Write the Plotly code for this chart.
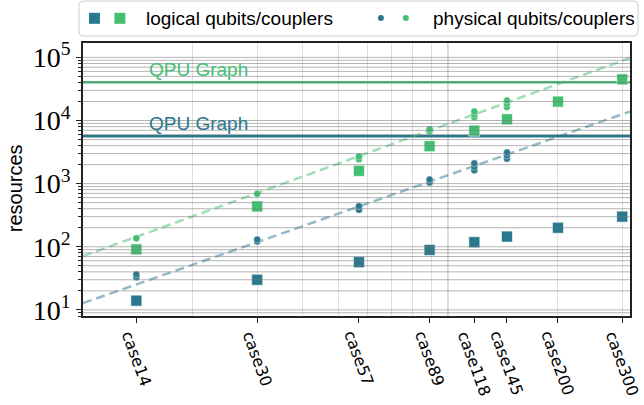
import numpy as np
import plotly.graph_objects as go

# ---- data -------------------------------------------------------------
cases = ["case14", "case30", "case57", "case89", "case118", "case145", "case200", "case300"]
buses = [14, 30, 57, 89, 118, 145, 200, 300]

logical_qubits = [14, 30, 57, 89, 118, 145, 200, 300]
logical_couplers = [91, 435, 1596, 3916, 6903, 10440, 19900, 44850]

# embedded problems (several embeddings per case; case200/case300 do not fit)
physical_buses = [14, 30, 57, 89, 118, 145]
physical_qubits = [[33, 36.5], [121, 130], [385, 439], [1045, 1167],
                   [1622, 1850, 2094], [2483, 2790, 3126]]
physical_couplers = [[136], [690], [2440, 2690], [6740, 7245],
                     [11250, 12400, 13830], [16370, 18400, 20700]]

# hardware graph size
qpu_qubits = 5627
qpu_couplers = 40279

# power-law trend lines across the bus-count axis
trend_buses = [10, 315]
qubit_trend = [12.8, 13900]
coupler_trend = [71, 98000]

y_tick_vals = [10, 100, 1000, 10000, 100000]
y_tick_text = ["10<sup>1</sup>", "10<sup>2</sup>", "10<sup>3</sup>", "10<sup>4</sup>", "10<sup>5</sup>"]

# ---- styling ----------------------------------------------------------
TEAL = "#2a788e"
GREEN = "#43bf71"
SANS = "Liberation Sans"
AXIS_COL = "#222222"

X_RANGE = [np.log10(trend_buses[0]), np.log10(trend_buses[1])]
Y_RANGE = [np.log10(8.0), np.log10(1.69e5)]

# plot area in pixels (used for the hand-built legend box)
PL, PR, PT, PB = 83, 632, 43, 316
W, H = 644, 405


def fx(p):
    return (p - PL) / (PR - PL)


def fy(p):
    return (PB - p) / (PB - PT)


def flatten(xs, groups):
    xo, yo = [], []
    for x, vals in zip(xs, groups):
        xo += [x] * len(vals)
        yo += list(vals)
    return xo, yo


fig = go.Figure()

# QPU graph limits
fig.add_trace(go.Scatter(x=trend_buses, y=[qpu_couplers] * 2, mode="lines",
                         line=dict(color=GREEN, width=2.6), hoverinfo="skip"))
fig.add_trace(go.Scatter(x=trend_buses, y=[qpu_qubits] * 2, mode="lines",
                         line=dict(color=TEAL, width=2.6), hoverinfo="skip"))

# trend lines
fig.add_trace(go.Scatter(x=trend_buses, y=coupler_trend, mode="lines", opacity=0.5,
                         line=dict(color=GREEN, width=2.5, dash="9px,5px")))
fig.add_trace(go.Scatter(x=trend_buses, y=qubit_trend, mode="lines", opacity=0.5,
                         line=dict(color=TEAL, width=2.5, dash="9px,5px")))

# logical resources
sq = dict(symbol="square", size=11, line=dict(color="white", width=0.6))
fig.add_trace(go.Scatter(x=buses, y=logical_couplers, mode="markers",
                         marker=dict(color=GREEN, **sq), name="logical couplers"))
fig.add_trace(go.Scatter(x=buses, y=logical_qubits, mode="markers",
                         marker=dict(color=TEAL, **sq), name="logical qubits"))

# physical resources
px_c, py_c = flatten(physical_buses, physical_couplers)
px_q, py_q = flatten(physical_buses, physical_qubits)
ci = dict(symbol="circle", size=7, line=dict(color="white", width=0.4))
fig.add_trace(go.Scatter(x=px_c, y=py_c, mode="markers",
                         marker=dict(color=GREEN, **ci), name="physical couplers"))
fig.add_trace(go.Scatter(x=px_q, y=py_q, mode="markers",
                         marker=dict(color=TEAL, **ci), name="physical qubits"))

shapes = []

# horizontal grid (major + minor decades) drawn over the markers
for k in range(0, 6):
    for m in range(1, 10):
        v = m * 10 ** k
        lv = np.log10(v)
        if Y_RANGE[0] < lv < Y_RANGE[1]:
            yp = (lv - Y_RANGE[0]) / (Y_RANGE[1] - Y_RANGE[0])
            shapes.append(dict(type="line", xref="paper", yref="paper", x0=0, x1=1,
                               y0=yp, y1=yp, layer="above",
                               line=dict(color="rgba(120,120,120,0.55)", width=1)))

# slightly stronger vertical line at the 100-bus decade
x100 = (2 - X_RANGE[0]) / (X_RANGE[1] - X_RANGE[0])
shapes.append(dict(type="line", xref="paper", yref="paper", x0=x100, x1=x100, y0=0, y1=1,
                   layer="below", line=dict(color="#c9c9c9", width=1.6)))

# legend frame with rounded corners
r = 4
lx0, lx1, ly0, ly1 = 79, 640, 1, 36
path = (f"M {fx(lx0 + r)},{fy(ly0)} L {fx(lx1 - r)},{fy(ly0)} "
        f"Q {fx(lx1)},{fy(ly0)} {fx(lx1)},{fy(ly0 + r)} L {fx(lx1)},{fy(ly1 - r)} "
        f"Q {fx(lx1)},{fy(ly1)} {fx(lx1 - r)},{fy(ly1)} L {fx(lx0 + r)},{fy(ly1)} "
        f"Q {fx(lx0)},{fy(ly1)} {fx(lx0)},{fy(ly1 - r)} L {fx(lx0)},{fy(ly0 + r)} "
        f"Q {fx(lx0)},{fy(ly0)} {fx(lx0 + r)},{fy(ly0)} Z")
shapes.append(dict(type="path", xref="paper", yref="paper", path=path,
                   fillcolor="white", line=dict(color="#d0d0d0", width=1)))

# legend glyphs
for cx, col in [(94.5, TEAL), (120, GREEN)]:
    shapes.append(dict(type="rect", xref="paper", yref="paper",
                       x0=fx(cx - 5.5), x1=fx(cx + 5.5), y0=fy(18.3 + 5.5), y1=fy(18.3 - 5.5),
                       fillcolor=col, line=dict(width=0)))
for cx, col in [(382, TEAL), (407, GREEN)]:
    shapes.append(dict(type="circle", xref="paper", yref="paper",
                       x0=fx(cx - 3), x1=fx(cx + 3), y0=fy(18 + 3), y1=fy(18 - 3),
                       fillcolor=col, line=dict(width=0)))

annotations = []
annotations.append(dict(text="logical qubits/couplers", xref="paper", yref="paper",
                        x=fx(144), y=fy(18), xanchor="left", yanchor="middle",
                        showarrow=False, font=dict(family=SANS, size=19, color="black")))
annotations.append(dict(text="physical qubits/couplers", xref="paper", yref="paper",
                        x=fx(432), y=fy(18), xanchor="left", yanchor="middle",
                        showarrow=False, font=dict(family=SANS, size=19, color="black")))

# QPU labels
for val, col in [(qpu_couplers, GREEN), (qpu_qubits, TEAL)]:
    annotations.append(dict(text="QPU Graph", x=np.log10(15), y=np.log10(val),
                            xref="x", yref="y", xanchor="left", yanchor="bottom",
                            showarrow=False, font=dict(family=SANS, size=19, color=col)))

# rotated case labels
for n, lab in zip(buses, cases):
    annotations.append(dict(text=lab, x=np.log10(n), y=0, xref="x", yref="paper",
                            xanchor="center", yanchor="top", yshift=-10,
                            textangle=70, showarrow=False,
                            font=dict(family="DejaVu Sans", size=16, color="black")))

# y title
annotations.append(dict(text="resources", xref="paper", yref="paper",
                        x=fx(15), y=fy(188), xanchor="center", yanchor="middle",
                        textangle=-90, showarrow=False,
                        font=dict(family=SANS, size=20, color="black")))

minor_y = [m * 10 ** k for k in range(0, 6) for m in range(2, 10)]

fig.update_layout(
    width=W, height=H,
    margin=dict(l=PL, r=W - PR, t=PT, b=H - PB),
    plot_bgcolor="white", paper_bgcolor="white",
    showlegend=False,
    shapes=shapes,
    annotations=annotations,
    xaxis=dict(type="log", range=X_RANGE, tickvals=buses, showticklabels=False,
               ticks="outside", ticklen=5, tickwidth=1.2, tickcolor=AXIS_COL,
               showgrid=False, zeroline=False,
               showline=True, mirror=True, linecolor=AXIS_COL, linewidth=1.6,
               minor=dict(tickvals=[20, 30, 40, 50, 60, 70, 80, 90, 100, 200, 300],
                          ticks="", showgrid=True, gridcolor="#dedede", gridwidth=1)),
    yaxis=dict(type="log", range=Y_RANGE, tickvals=y_tick_vals, ticktext=y_tick_text,
               tickfont=dict(family="Liberation Serif", size=28, color="black"),
               ticks="outside", ticklen=5, tickwidth=1.2, tickcolor=AXIS_COL,
               showgrid=False, zeroline=False,
               showline=True, mirror=True, linecolor=AXIS_COL, linewidth=1.6,
               minor=dict(tickvals=minor_y, ticks="outside", ticklen=3, tickwidth=1,
                          tickcolor=AXIS_COL, showgrid=False)),
)

fig.write_html("out.html")
